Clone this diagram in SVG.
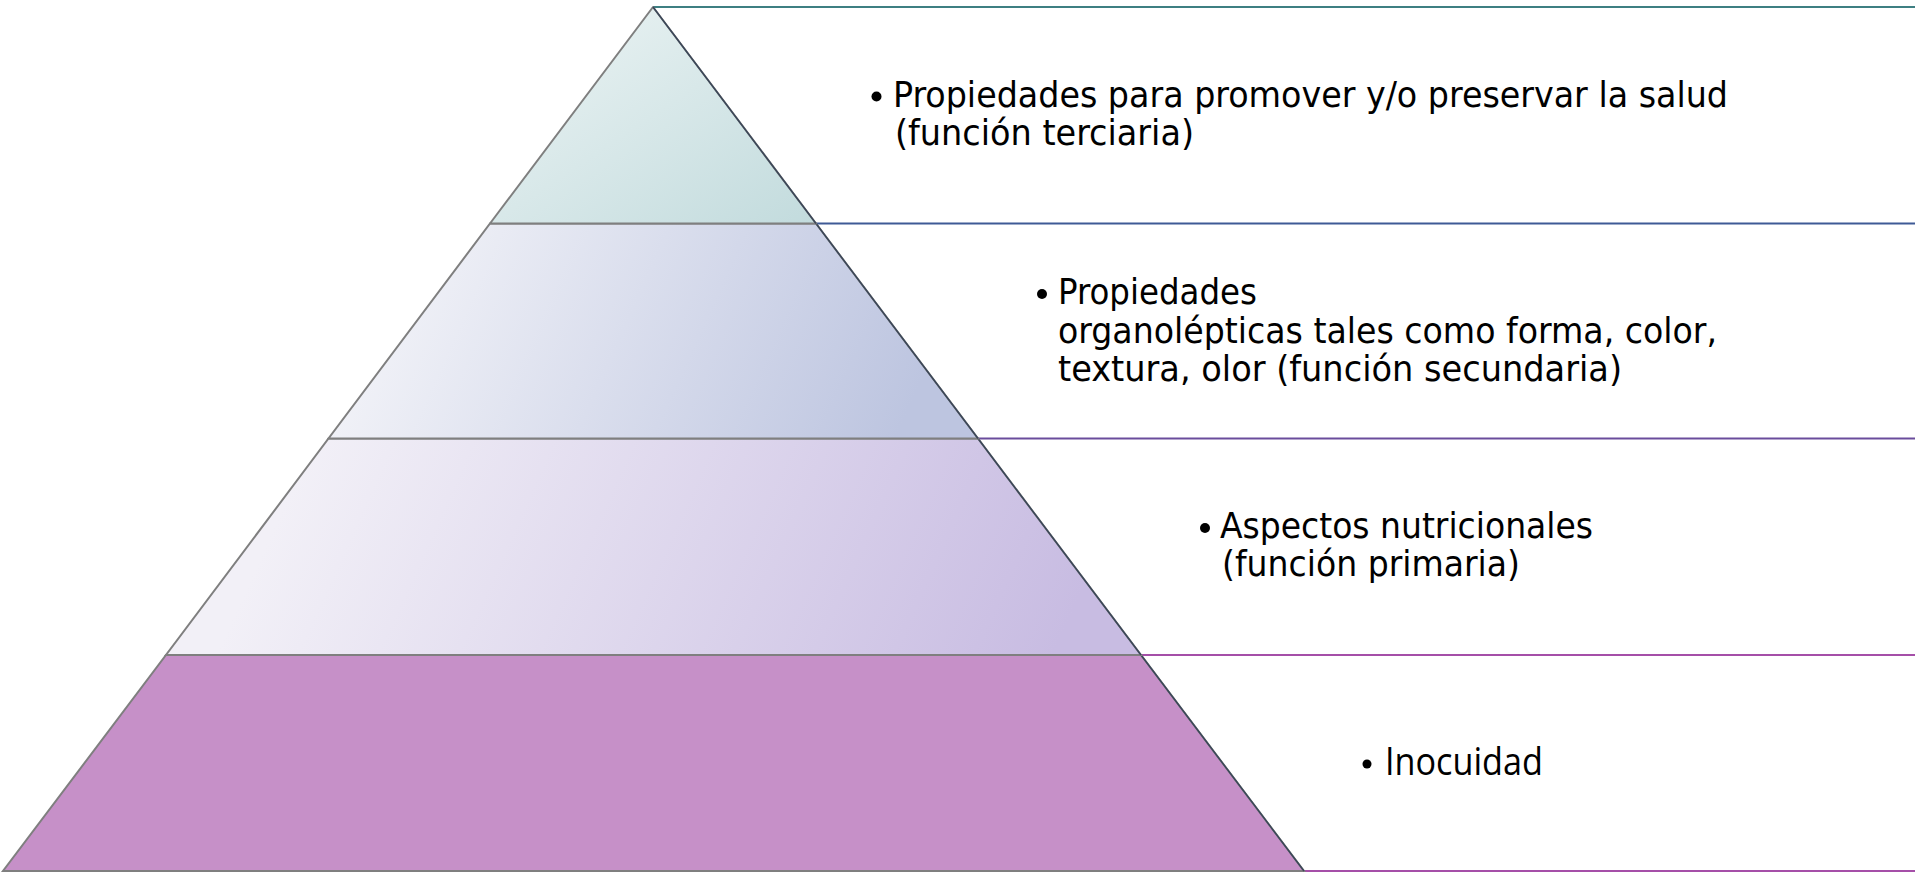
<svg xmlns="http://www.w3.org/2000/svg" width="1915" height="873" viewBox="0 0 1915 873">
<style>
.t{font-family:"DejaVu Sans Condensed","DejaVu Sans","Liberation Sans",sans-serif;font-size:36px;fill:#000}
.t4{font-family:"Open Sans","Liberation Sans",sans-serif;font-size:39px;fill:#000}
.lvl{stroke:#7f7f7f;stroke-width:2}
.edge{stroke:#3a4658;stroke-width:1.5;fill:none}
.bul{fill:#000}
</style>
<defs>
<linearGradient id="g1" x1="0" y1="0" x2="1" y2="1">
<stop offset="0" stop-color="#eef5f5"/><stop offset="1" stop-color="#c2dbdd"/>
</linearGradient>
<linearGradient id="g2" x1="0" y1="0" x2="1" y2="0.15">
<stop offset="0.15" stop-color="#f0f1f7"/><stop offset="1" stop-color="#bdc5e0"/>
</linearGradient>
<linearGradient id="g3" x1="0" y1="0" x2="1" y2="0.1">
<stop offset="0.15" stop-color="#f2f0f7"/><stop offset="1" stop-color="#c8bce2"/>
</linearGradient>
</defs>
<rect width="1915" height="873" fill="#fff"/>
<g id="connectors">
<line x1="653" y1="7" x2="1915" y2="7" stroke="#3e7f82" stroke-width="2"/>
<line x1="816" y1="223.5" x2="1915" y2="223.5" stroke="#3f5a96" stroke-width="2"/>
<line x1="978" y1="438.5" x2="1915" y2="438.5" stroke="#6a4c9c" stroke-width="2"/>
<line x1="1141" y1="655" x2="1915" y2="655" stroke="#a54fa8" stroke-width="2"/>
<line x1="1304" y1="871" x2="1915" y2="871" stroke="#a54fa8" stroke-width="2"/>
</g>
<g id="level4">
<polygon points="166,655 1141,655 1304,871 3,871" fill="#c690c8" class="lvl"/>
<line x1="1141" y1="655" x2="1304" y2="871" class="edge"/>
</g>
<g id="level3">
<polygon points="328.5,438.5 978,438.5 1141,655 166,655" fill="url(#g3)" class="lvl"/>
<line x1="978" y1="438.5" x2="1141" y2="655" class="edge"/>
</g>
<g id="level2">
<polygon points="490,223.5 816,223.5 978,438.5 328.5,438.5" fill="url(#g2)" class="lvl"/>
<line x1="816" y1="223.5" x2="978" y2="438.5" class="edge"/>
</g>
<g id="level1">
<polygon points="653,7 816,223.5 490,223.5" fill="url(#g1)" class="lvl" stroke-linejoin="round"/>
<line x1="653" y1="7" x2="816" y2="223.5" class="edge"/>
</g>
<g id="text1">
<circle class="bul" cx="876.5" cy="96.5" r="5"/>
<text class="t" x="893" y="107" textLength="835" lengthAdjust="spacingAndGlyphs">Propiedades para promover y/o preservar la salud</text>
<text class="t" x="895" y="145" textLength="299" lengthAdjust="spacingAndGlyphs">(función terciaria)</text>
</g>
<g id="text2">
<circle class="bul" cx="1042" cy="294" r="5"/>
<text class="t" x="1058" y="304" textLength="199" lengthAdjust="spacingAndGlyphs">Propiedades</text>
<text class="t" x="1058" y="343" textLength="659" lengthAdjust="spacingAndGlyphs">organolépticas tales como forma, color,</text>
<text class="t" x="1058" y="381" textLength="564" lengthAdjust="spacingAndGlyphs">textura, olor (función secundaria)</text>
</g>
<g id="text3">
<circle class="bul" cx="1205" cy="528" r="5"/>
<text class="t" x="1220" y="538" textLength="373" lengthAdjust="spacingAndGlyphs">Aspectos nutricionales</text>
<text class="t" x="1222" y="576" textLength="298" lengthAdjust="spacingAndGlyphs">(función primaria)</text>
</g>
<g id="text4">
<circle class="bul" cx="1367" cy="764" r="4.5"/>
<text class="t4" x="1385" y="775" textLength="158" lengthAdjust="spacingAndGlyphs">Inocuidad</text>
</g>
</svg>
